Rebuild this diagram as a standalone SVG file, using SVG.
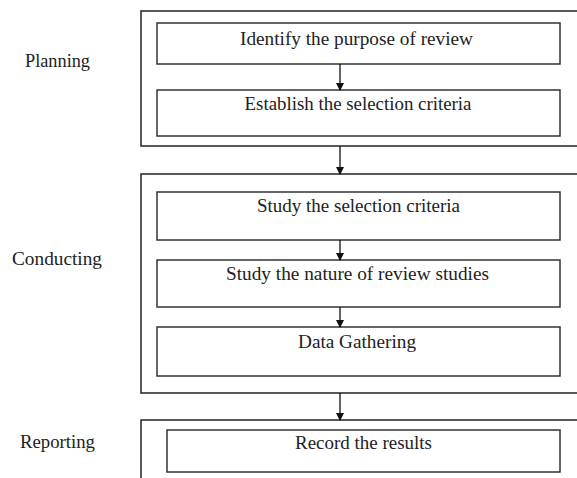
<svg xmlns="http://www.w3.org/2000/svg" width="577" height="478" viewBox="0 0 577 478">
<defs>
<style>
.outer{fill:none;stroke:#222;stroke-width:1.5}
.box{fill:#fff;stroke:#333;stroke-width:1.5}
.t{font-family:"Liberation Serif",serif;font-size:18px;fill:#222;text-anchor:middle}
.lab{font-family:"Liberation Serif",serif;font-size:18px;fill:#222}
.c{stroke:#111;stroke-width:1.3;fill:none}
</style>
<marker id="ah" markerWidth="8" markerHeight="8" refX="7" refY="4" orient="auto" markerUnits="userSpaceOnUse">
<path d="M0,0 L8,4 L0,8 Z" fill="#111"/>
</marker>
</defs>
<rect width="577" height="478" fill="#fff"/>
<g id="phase-planning">
<rect class="outer" x="141" y="11" width="440" height="135"/>
<text class="lab" x="25" y="67" textLength="65" lengthAdjust="spacingAndGlyphs">Planning</text>
</g>
<g id="phase-conducting">
<rect class="outer" x="141" y="174" width="440" height="219"/>
<text class="lab" x="12" y="265" textLength="90" lengthAdjust="spacingAndGlyphs">Conducting</text>
</g>
<g id="phase-reporting">
<rect class="outer" x="141" y="420" width="440" height="70"/>
<text class="lab" x="20" y="448" textLength="75" lengthAdjust="spacingAndGlyphs">Reporting</text>
</g>
<g id="n1">
<rect class="box" x="157" y="23" width="403" height="41"/>
<text class="t" x="356.5" y="45" textLength="233" lengthAdjust="spacingAndGlyphs">Identify the purpose of review</text>
</g>
<g id="n2">
<rect class="box" x="157" y="90" width="403" height="46"/>
<text class="t" x="358" y="110" textLength="227" lengthAdjust="spacingAndGlyphs">Establish the selection criteria</text>
</g>
<g id="n3">
<rect class="box" x="157" y="192" width="403" height="48"/>
<text class="t" x="358.5" y="212" textLength="203" lengthAdjust="spacingAndGlyphs">Study the selection criteria</text>
</g>
<g id="n4">
<rect class="box" x="157" y="260" width="403" height="47"/>
<text class="t" x="357.5" y="280" textLength="263" lengthAdjust="spacingAndGlyphs">Study the nature of review studies</text>
</g>
<g id="n5">
<rect class="box" x="157" y="327" width="403" height="49"/>
<text class="t" x="357" y="348" textLength="118" lengthAdjust="spacingAndGlyphs">Data Gathering</text>
</g>
<g id="n6">
<rect class="box" x="167" y="430" width="393" height="42"/>
<text class="t" x="363.5" y="449" textLength="137" lengthAdjust="spacingAndGlyphs">Record the results</text>
</g>
<g id="connectors">
<line class="c" x1="340" y1="64" x2="340" y2="90" marker-end="url(#ah)"/>
<line class="c" x1="340" y1="146" x2="340" y2="174" marker-end="url(#ah)"/>
<line class="c" x1="340" y1="240" x2="340" y2="260" marker-end="url(#ah)"/>
<line class="c" x1="340" y1="307" x2="340" y2="327" marker-end="url(#ah)"/>
<line class="c" x1="340" y1="393" x2="340" y2="420" marker-end="url(#ah)"/>
</g>
</svg>
